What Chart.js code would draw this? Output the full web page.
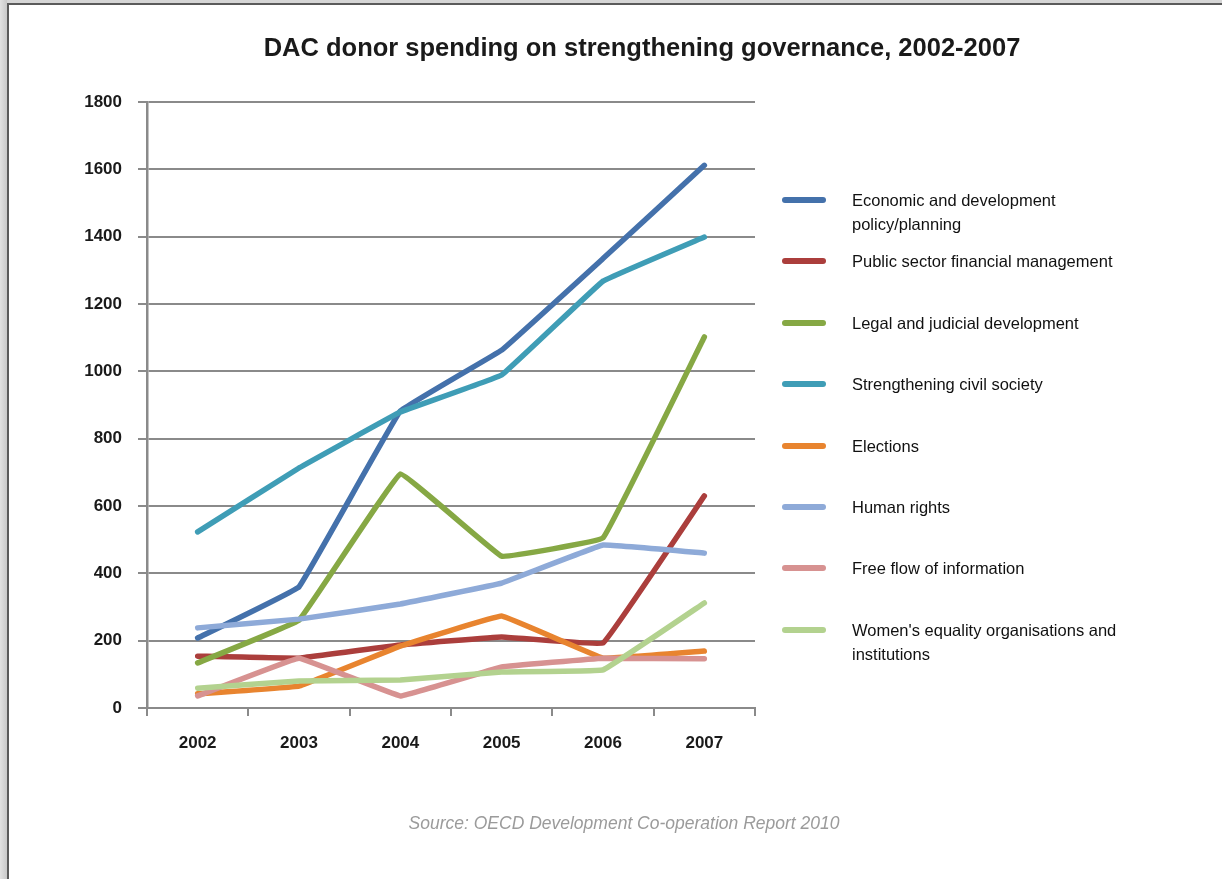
<!DOCTYPE html>
<html>
<head>
<meta charset="utf-8">
<script src="https://cdn.jsdelivr.net/npm/chart.js@4/dist/chart.umd.min.js"></script>
<style>
  html, body { margin: 0; padding: 0; width: 1222px; height: 879px; overflow: hidden; background: #d6d6d6; }
  .page { position: absolute; left: 7px; top: 3px; right: 0; bottom: 0; background: #fff;
          border-left: 2px solid #5b5b5b; border-top: 2px solid #5b5b5b; }
  .shadow { position: absolute; left: 0; top: 0; width: 7px; height: 879px;
            background: linear-gradient(to right, #e2e2e2, #c9c9c9); }
  #wrap { position: absolute; left: 0; top: 0; width: 1222px; height: 879px; }
  .title { position: absolute; left: 642px; top: 33px; transform: translateX(-50%); white-space: nowrap;
           font: bold 25.5px "Liberation Sans", Arial, sans-serif; color: #1a1a1a; }
  .source { position: absolute; left: 624px; top: 813px; transform: translateX(-50%); white-space: nowrap;
            font: italic 17.5px "Liberation Sans", Arial, sans-serif; color: #9b9b9b; }
  #legend { position: absolute; left: 782px; top: 188px; width: 420px; }
  .item { display: flex; align-items: flex-start; height: 61.4px; }
  .swatch { width: 44px; height: 6px; border-radius: 3px; margin-top: 9px; margin-right: 26px; flex: none; }
  .label { width: 290px; font: 16.5px "Liberation Sans", Arial, sans-serif; line-height: 24px; color: #111; }
</style>
</head>
<body>
<div class="shadow"></div>
<div class="page"></div>
<div id="wrap"><canvas id="chart"></canvas></div>
<div class="title">DAC donor spending on strengthening governance, 2002-2007</div>
<div class="source">Source: OECD Development Co-operation Report 2010</div>
<div id="legend"></div>
<script>
var years = ["2002", "2003", "2004", "2005", "2006", "2007"];

var seriesNames = [
    "Economic and development policy/planning",
    "Public sector financial management",
    "Legal and judicial development",
    "Strengthening civil society",
    "Elections",
    "Human rights",
    "Free flow of information",
    "Women's equality organisations and institutions"
];

var economic = [208, 360, 882, 1063, 1335, 1612];
var publicSector = [154, 148, 187, 211, 193, 630];
var legal = [134, 261, 695, 451, 505, 1102];
var civilSociety = [523, 713, 879, 989, 1268, 1399];
var elections = [42, 65, 184, 273, 148, 169];
var humanRights = [238, 264, 309, 371, 484, 460];
var freeFlow = [36, 148, 36, 122, 148, 146];
var womens = [59, 80, 83, 107, 113, 312];

var colours = ["#4471ab", "#ab3e3c", "#86a844", "#3f9db6", "#e8842f", "#8eaad8", "#d79291", "#b3d28f"];

var yTicks = [0, 200, 400, 600, 800, 1000, 1200, 1400, 1600, 1800];

var values = [economic, publicSector, legal, civilSociety, elections, humanRights, freeFlow, womens];
var datasets = [];
for (var i = 0; i < values.length; i++) {
    datasets.push({
        label: seriesNames[i],
        data: values[i],
        borderColor: colours[i],
        backgroundColor: colours[i],
        borderWidth: 5.5,
        pointRadius: 0,
        tension: 0.05,
        borderCapStyle: 'round',
        borderJoinStyle: 'round',
        fill: false,
        order: values.length - i
    });
}

// html legend
var legend = document.getElementById("legend");
for (var j = 0; j < datasets.length; j++) {
    var item = document.createElement("div");
    item.className = "item";
    var sw = document.createElement("div");
    sw.className = "swatch";
    sw.style.background = datasets[j].borderColor;
    var lab = document.createElement("div");
    lab.className = "label";
    lab.textContent = datasets[j].label;
    item.appendChild(sw);
    item.appendChild(lab);
    legend.appendChild(item);
}

var gridGrey = "#8a8a8a";
var ctx = document.getElementById("chart");

var chart = new Chart(ctx, {
    type: 'line',
    data: { labels: years, datasets: datasets },
    options: {
        responsive: true,
        maintainAspectRatio: false,
        animation: false,
        layout: { padding: { top: 102, right: 467, bottom: 121, left: 0 } },
        plugins: {
            legend: { display: false },
            title: { display: false },
            tooltip: { enabled: false }
        },
        scales: {
            x: {
                offset: true,
                grid: { offset: true, drawOnChartArea: false, color: gridGrey, lineWidth: 2, tickLength: 8 },
                border: { color: gridGrey, width: 2 },
                ticks: { color: "#1a1a1a", padding: 17, font: { family: "Liberation Sans", size: 17, weight: 'bold' } },
                afterFit: function (s) { s.height = 50; }
            },
            y: {
                min: 0,
                max: 1800,
                afterBuildTicks: function (s) { s.ticks = yTicks.map(function (v) { return { value: v }; }); },
                grid: { color: gridGrey, lineWidth: 2, tickLength: 9 },
                border: { color: gridGrey, width: 2.5 },
                ticks: {
                    color: "#1a1a1a", padding: 16,
                    font: { family: "Liberation Sans", size: 17, weight: 'bold' },
                    callback: function (v) { return String(v); }
                },
                afterFit: function (s) { s.width = 147; }
            }
        }
    }
});
</script>
</body>
</html>
